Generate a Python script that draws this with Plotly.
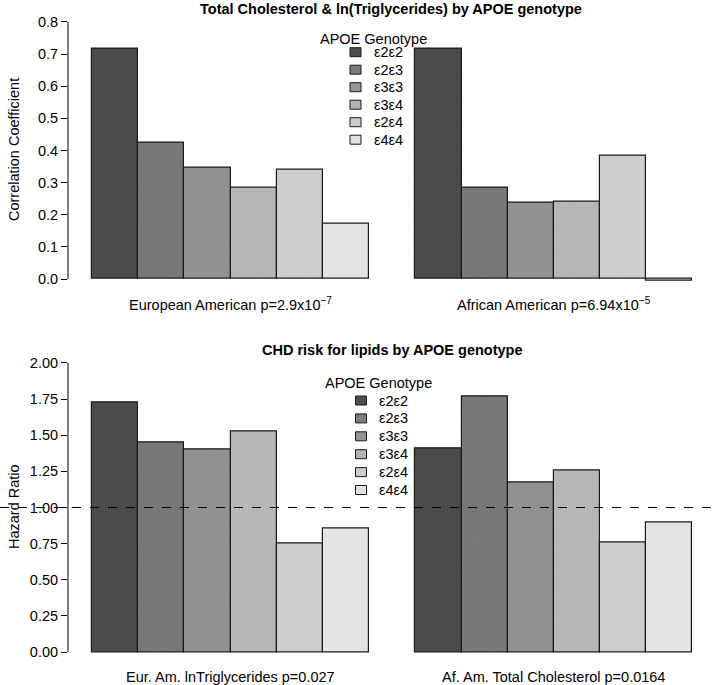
import plotly.graph_objects as go

# ---------------- data ----------------
genotypes = ["ε2ε2", "ε2ε3", "ε3ε3", "ε3ε4", "ε2ε4", "ε4ε4"]
corr_ea = [0.716, 0.425, 0.346, 0.283, 0.340, 0.171]
corr_aa = [0.716, 0.285, 0.238, 0.241, 0.384, -0.006]
hr_ea = [1.73, 1.45, 1.40, 1.53, 0.755, 0.855]
hr_aa = [1.41, 1.77, 1.176, 1.255, 0.757, 0.895]
top_groups = ["European American p=2.9x10<sup>−7</sup>",
              "African American p=6.94x10<sup>−5</sup>"]
bot_groups = ["Eur. Am. lnTriglycerides p=0.027", "Af. Am. Total Cholesterol p=0.0164"]
corr_ticks = [0, 0.1, 0.2, 0.3, 0.4, 0.5, 0.6, 0.7, 0.8]
corr_ticklabels = ["0.0", "0.1", "0.2", "0.3", "0.4", "0.5", "0.6", "0.7", "0.8"]
hr_ticks = [0, 0.25, 0.5, 0.75, 1.0, 1.25, 1.5, 1.75, 2.0]
hr_ticklabels = ["0.00", "0.25", "0.50", "0.75", "1.00", "1.25", "1.50", "1.75", "2.00"]

# ---------------- style ----------------
fills = ["#4e4e4e", "#7b7b7b", "#959595", "#b3b3b3", "#cbcbcb", "#e1e1e1"]
pat_fg = ["#3a3a3a", "#666666", "#808080", "#c8c8c8", "#dcdcdc", "#efefef"]
pat_shapes = [".", "\\", "/", ".", ".", "."]
FONT = "Liberation Sans, Arial, Helvetica, sans-serif"
FS = 14.5
W, H = 717, 685

def px_x(p):
    return p / W

def px_y(p):
    return 1 - p / H

# positions of bars in barplot units (group 1: slots 0-5, gap, group 2: slots 7-12)
def slot(group, i):
    return group * 7 + i + 0.5

fig = go.Figure()
for i, g in enumerate(genotypes):
    mk = dict(color=fills[i], line=dict(color="#1a1a1a", width=1.2),
              pattern=dict(shape=pat_shapes[i], fgcolor=pat_fg[i], bgcolor=fills[i],
                           size=3, solidity=0.35))
    fig.add_trace(go.Bar(
        x=[slot(0, i), slot(1, i)], y=[corr_ea[i], corr_aa[i]], width=1,
        marker=mk, name=g, showlegend=False, xaxis="x", yaxis="y", hoverinfo="skip"))
    fig.add_trace(go.Bar(
        x=[slot(0, i), slot(1, i)], y=[hr_ea[i], hr_aa[i]], width=1,
        marker=mk, name=g, showlegend=False, xaxis="x2", yaxis="y2", hoverinfo="skip"))

xdom = [px_x(68), px_x(716.5)]
xr = [-0.52, 13.52]
top_rng = [-0.032, 0.832]
bot_rng = [-0.08, 2.08]
top_dom = [px_y(289.3), px_y(11.7)]
bot_dom = [px_y(663.6), px_y(351.4)]

axis_common = dict(ticks="outside", ticklen=6, tickwidth=1, tickcolor="black",
                   showline=False, showgrid=False, zeroline=False,
                   tickfont=dict(family=FONT, size=FS, color="black"))
fig.update_layout(
    width=W, height=H, autosize=False,
    margin=dict(l=0, r=0, t=0, b=0),
    paper_bgcolor="white", plot_bgcolor="rgba(0,0,0,0)",
    barmode="overlay", bargap=0,
    font=dict(family=FONT, color="black"),
    xaxis=dict(domain=xdom, range=xr, visible=False, anchor="y"),
    xaxis2=dict(domain=xdom, range=xr, visible=False, anchor="y2"),
    yaxis=dict(domain=top_dom, range=top_rng, anchor="x", tickvals=corr_ticks,
               ticktext=corr_ticklabels, **axis_common),
    yaxis2=dict(domain=bot_dom, range=bot_rng, anchor="x2", tickvals=hr_ticks,
                ticktext=hr_ticklabels, **axis_common),
)

shapes = []
shapes.append(dict(type="line", xref="paper", yref="y", x0=xdom[0], x1=xdom[0],
                   y0=corr_ticks[0], y1=corr_ticks[-1], line=dict(color="black", width=1)))
shapes.append(dict(type="line", xref="paper", yref="y2", x0=xdom[0], x1=xdom[0],
                   y0=hr_ticks[0], y1=hr_ticks[-1], line=dict(color="black", width=1)))
shapes.append(dict(type="line", xref="paper", yref="y2", x0=0, x1=1, y0=1, y1=1,
                   line=dict(color="black", width=1, dash="dash")))

annotations = []
def text(x, y, s, size=FS, bold=False, xanchor="center", angle=0):
    annotations.append(dict(xref="paper", yref="paper", x=px_x(x), y=px_y(y), text=s,
                            showarrow=False, xanchor=xanchor, yanchor="middle",
                            textangle=angle,
                            font=dict(family=FONT, size=size, color="black",
                                      weight="bold" if bold else "normal")))

text(391.5, 9, "Total Cholesterol & ln(Triglycerides) by APOE genotype", FS, True)
text(392, 350, "CHD risk for lipids by APOE genotype", FS, True)
text(14, 150, "Correlation Coefficient", FS, angle=-90)
text(14, 507, "Hazard Ratio", FS, angle=-90)

for gi in range(2):
    cx = (slot(gi, 0) + slot(gi, 5)) / 2
    annotations.append(dict(xref="x", yref="paper", x=cx, y=px_y(304), text=top_groups[gi],
                            showarrow=False, yanchor="middle",
                            font=dict(family=FONT, size=FS, color="black")))
    annotations.append(dict(xref="x2", yref="paper", x=cx, y=px_y(677), text=bot_groups[gi],
                            showarrow=False, yanchor="middle",
                            font=dict(family=FONT, size=FS, color="black")))

def legend(title_cx, title_y, box_x0, label_x, rows):
    text(title_cx, title_y, "APOE Genotype", FS)
    for i, g in enumerate(genotypes):
        yc = rows[0] + i * (rows[1] - rows[0]) / 5
        shapes.append(dict(type="rect", xref="paper", yref="paper",
                           x0=px_x(box_x0), x1=px_x(box_x0 + 11),
                           y0=px_y(yc + 4.5), y1=px_y(yc - 4.5),
                           fillcolor=fills[i], line=dict(color="#1a1a1a", width=1)))
        text(label_x, yc, g, FS, xanchor="left")

legend(373.5, 38.5, 350, 372, (52.2, 139.7))
legend(378.5, 382.5, 355.5, 377, (400.5, 490))

fig.update_layout(shapes=shapes, annotations=annotations)
fig.write_html("out.html", config={"displayModeBar": False},
               post_script="document.body.style.margin='0';document.body.style.overflow='hidden';")
